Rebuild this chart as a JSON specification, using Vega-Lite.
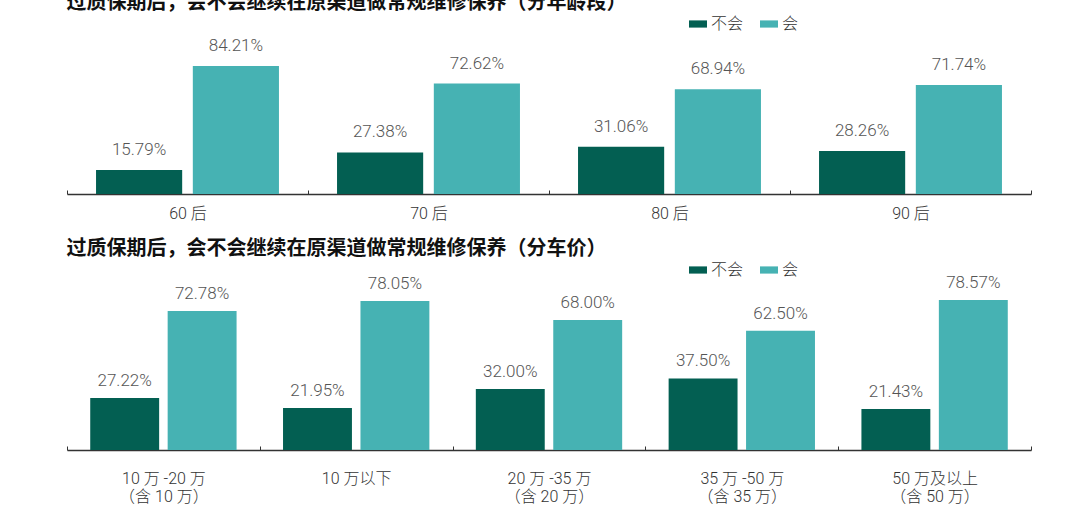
{
  "$schema": "https://vega.github.io/schema/vega-lite/v6.json",
  "background": "white",
  "padding": {"left": 66, "top": -7, "right": 10, "bottom": 0},
  "bounds": "flush",
  "spacing": 65,
  "resolve": {
    "legend": {"color": "independent"},
    "scale": {"x": "independent", "xOffset": "independent"}
  },
  "config": {
    "view": {"stroke": null},
    "font": "Roboto, Noto Sans CJK SC",
    "axis": {
      "domainColor": "#333",
      "domainWidth": 1.5,
      "tickColor": "#333",
      "tickSize": -4,
      "tickWidth": 1,
      "tickBand": "extent",
      "labelFont": "Roboto, Noto Sans CJK SC",
      "labelFontSize": 16,
      "labelColor": "#333",
      "labelFontWeight": 300,
      "labelAngle": 0,
      "title": null
    },
    "legend": {
      "orient": "none",
      "direction": "horizontal",
      "title": null,
      "labelFont": "Noto Sans CJK SC",
      "labelFontSize": 16,
      "labelFontWeight": 300,
      "labelColor": "#333",
      "labelOffset": 4,
      "columnPadding": 16,
      "symbolType": "M-1,-0.4L1,-0.4L1,0.4L-1,0.4Z",
      "symbolSize": 324,
      "symbolStrokeWidth": 0
    },
    "title": {
      "anchor": "start",
      "font": "Noto Sans CJK SC",
      "fontSize": 20,
      "fontWeight": "bold",
      "color": "#111"
    }
  },
  "vconcat": [
    {
      "width": 964,
      "height": 152,
      "title": {"text": "过质保期后，会不会继续在原渠道做常规维修保养（分年龄段）", "offset": 2},
      "data": {
        "values": [
          {"group": "60 后", "answer": "不会", "pct": 0.1579},
          {"group": "60 后", "answer": "会", "pct": 0.8421},
          {"group": "70 后", "answer": "不会", "pct": 0.2738},
          {"group": "70 后", "answer": "会", "pct": 0.7262},
          {"group": "80 后", "answer": "不会", "pct": 0.3106},
          {"group": "80 后", "answer": "会", "pct": 0.6894},
          {"group": "90 后", "answer": "不会", "pct": 0.2826},
          {"group": "90 后", "answer": "会", "pct": 0.7174}
        ]
      },
      "encoding": {
        "x": {
          "field": "group",
          "type": "nominal",
          "sort": null,
          "scale": {"paddingInner": 0, "paddingOuter": 0},
          "axis": {"labelPadding": 15}
        },
        "xOffset": {
          "field": "answer",
          "sort": ["不会", "会"],
          "scale": {"paddingInner": 0.11, "paddingOuter": 0.3}
        },
        "y": {
          "field": "pct",
          "type": "quantitative",
          "scale": {"domain": [0, 1]},
          "axis": null
        }
      },
      "layer": [
        {
          "mark": {"type": "bar"},
          "encoding": {
            "color": {
              "field": "answer",
              "type": "nominal",
              "sort": ["不会", "会"],
              "scale": {"domain": ["不会", "会"], "range": ["#035f52", "#46b2b3"]},
              "legend": {"legendX": 622, "legendY": -27}
            }
          }
        },
        {
          "mark": {"type": "text", "dy": -11, "baseline": "bottom", "fontSize": 17, "fontWeight": 300, "color": "#555"},
          "encoding": {
            "text": {"field": "pct", "type": "quantitative", "format": ".2%"}
          }
        }
      ]
    },
    {
      "width": 964,
      "height": 191,
      "title": {"text": "过质保期后，会不会继续在原渠道做常规维修保养（分车价）", "offset": 0},
      "data": {
        "values": [
          {"group": "10 万 -20 万\n（含 10 万）", "answer": "不会", "pct": 0.2722},
          {"group": "10 万 -20 万\n（含 10 万）", "answer": "会", "pct": 0.7278},
          {"group": "10 万以下", "answer": "不会", "pct": 0.2195},
          {"group": "10 万以下", "answer": "会", "pct": 0.7805},
          {"group": "20 万 -35 万\n（含 20 万）", "answer": "不会", "pct": 0.32},
          {"group": "20 万 -35 万\n（含 20 万）", "answer": "会", "pct": 0.68},
          {"group": "35 万 -50 万\n（含 35 万）", "answer": "不会", "pct": 0.375},
          {"group": "35 万 -50 万\n（含 35 万）", "answer": "会", "pct": 0.625},
          {"group": "50 万及以上\n（含 50 万）", "answer": "不会", "pct": 0.2143},
          {"group": "50 万及以上\n（含 50 万）", "answer": "会", "pct": 0.7857}
        ]
      },
      "encoding": {
        "x": {
          "field": "group",
          "type": "nominal",
          "sort": null,
          "scale": {"paddingInner": 0, "paddingOuter": 0},
          "axis": {"labelPadding": 24, "labelLineHeight": 18, "labelExpr": "split(datum.label, '\\n')"}
        },
        "xOffset": {
          "field": "answer",
          "sort": ["不会", "会"],
          "scale": {"paddingInner": 0.11, "paddingOuter": 0.3}
        },
        "y": {
          "field": "pct",
          "type": "quantitative",
          "scale": {"domain": [0, 1]},
          "axis": null
        }
      },
      "layer": [
        {
          "mark": {"type": "bar"},
          "encoding": {
            "color": {
              "field": "answer",
              "type": "nominal",
              "sort": ["不会", "会"],
              "scale": {"domain": ["不会", "会"], "range": ["#035f52", "#46b2b3"]},
              "legend": {"legendX": 622, "legendY": 2}
            }
          }
        },
        {
          "mark": {"type": "text", "dy": -8, "baseline": "bottom", "fontSize": 17, "fontWeight": 300, "color": "#555"},
          "encoding": {
            "text": {"field": "pct", "type": "quantitative", "format": ".2%"}
          }
        }
      ]
    }
  ]
}
